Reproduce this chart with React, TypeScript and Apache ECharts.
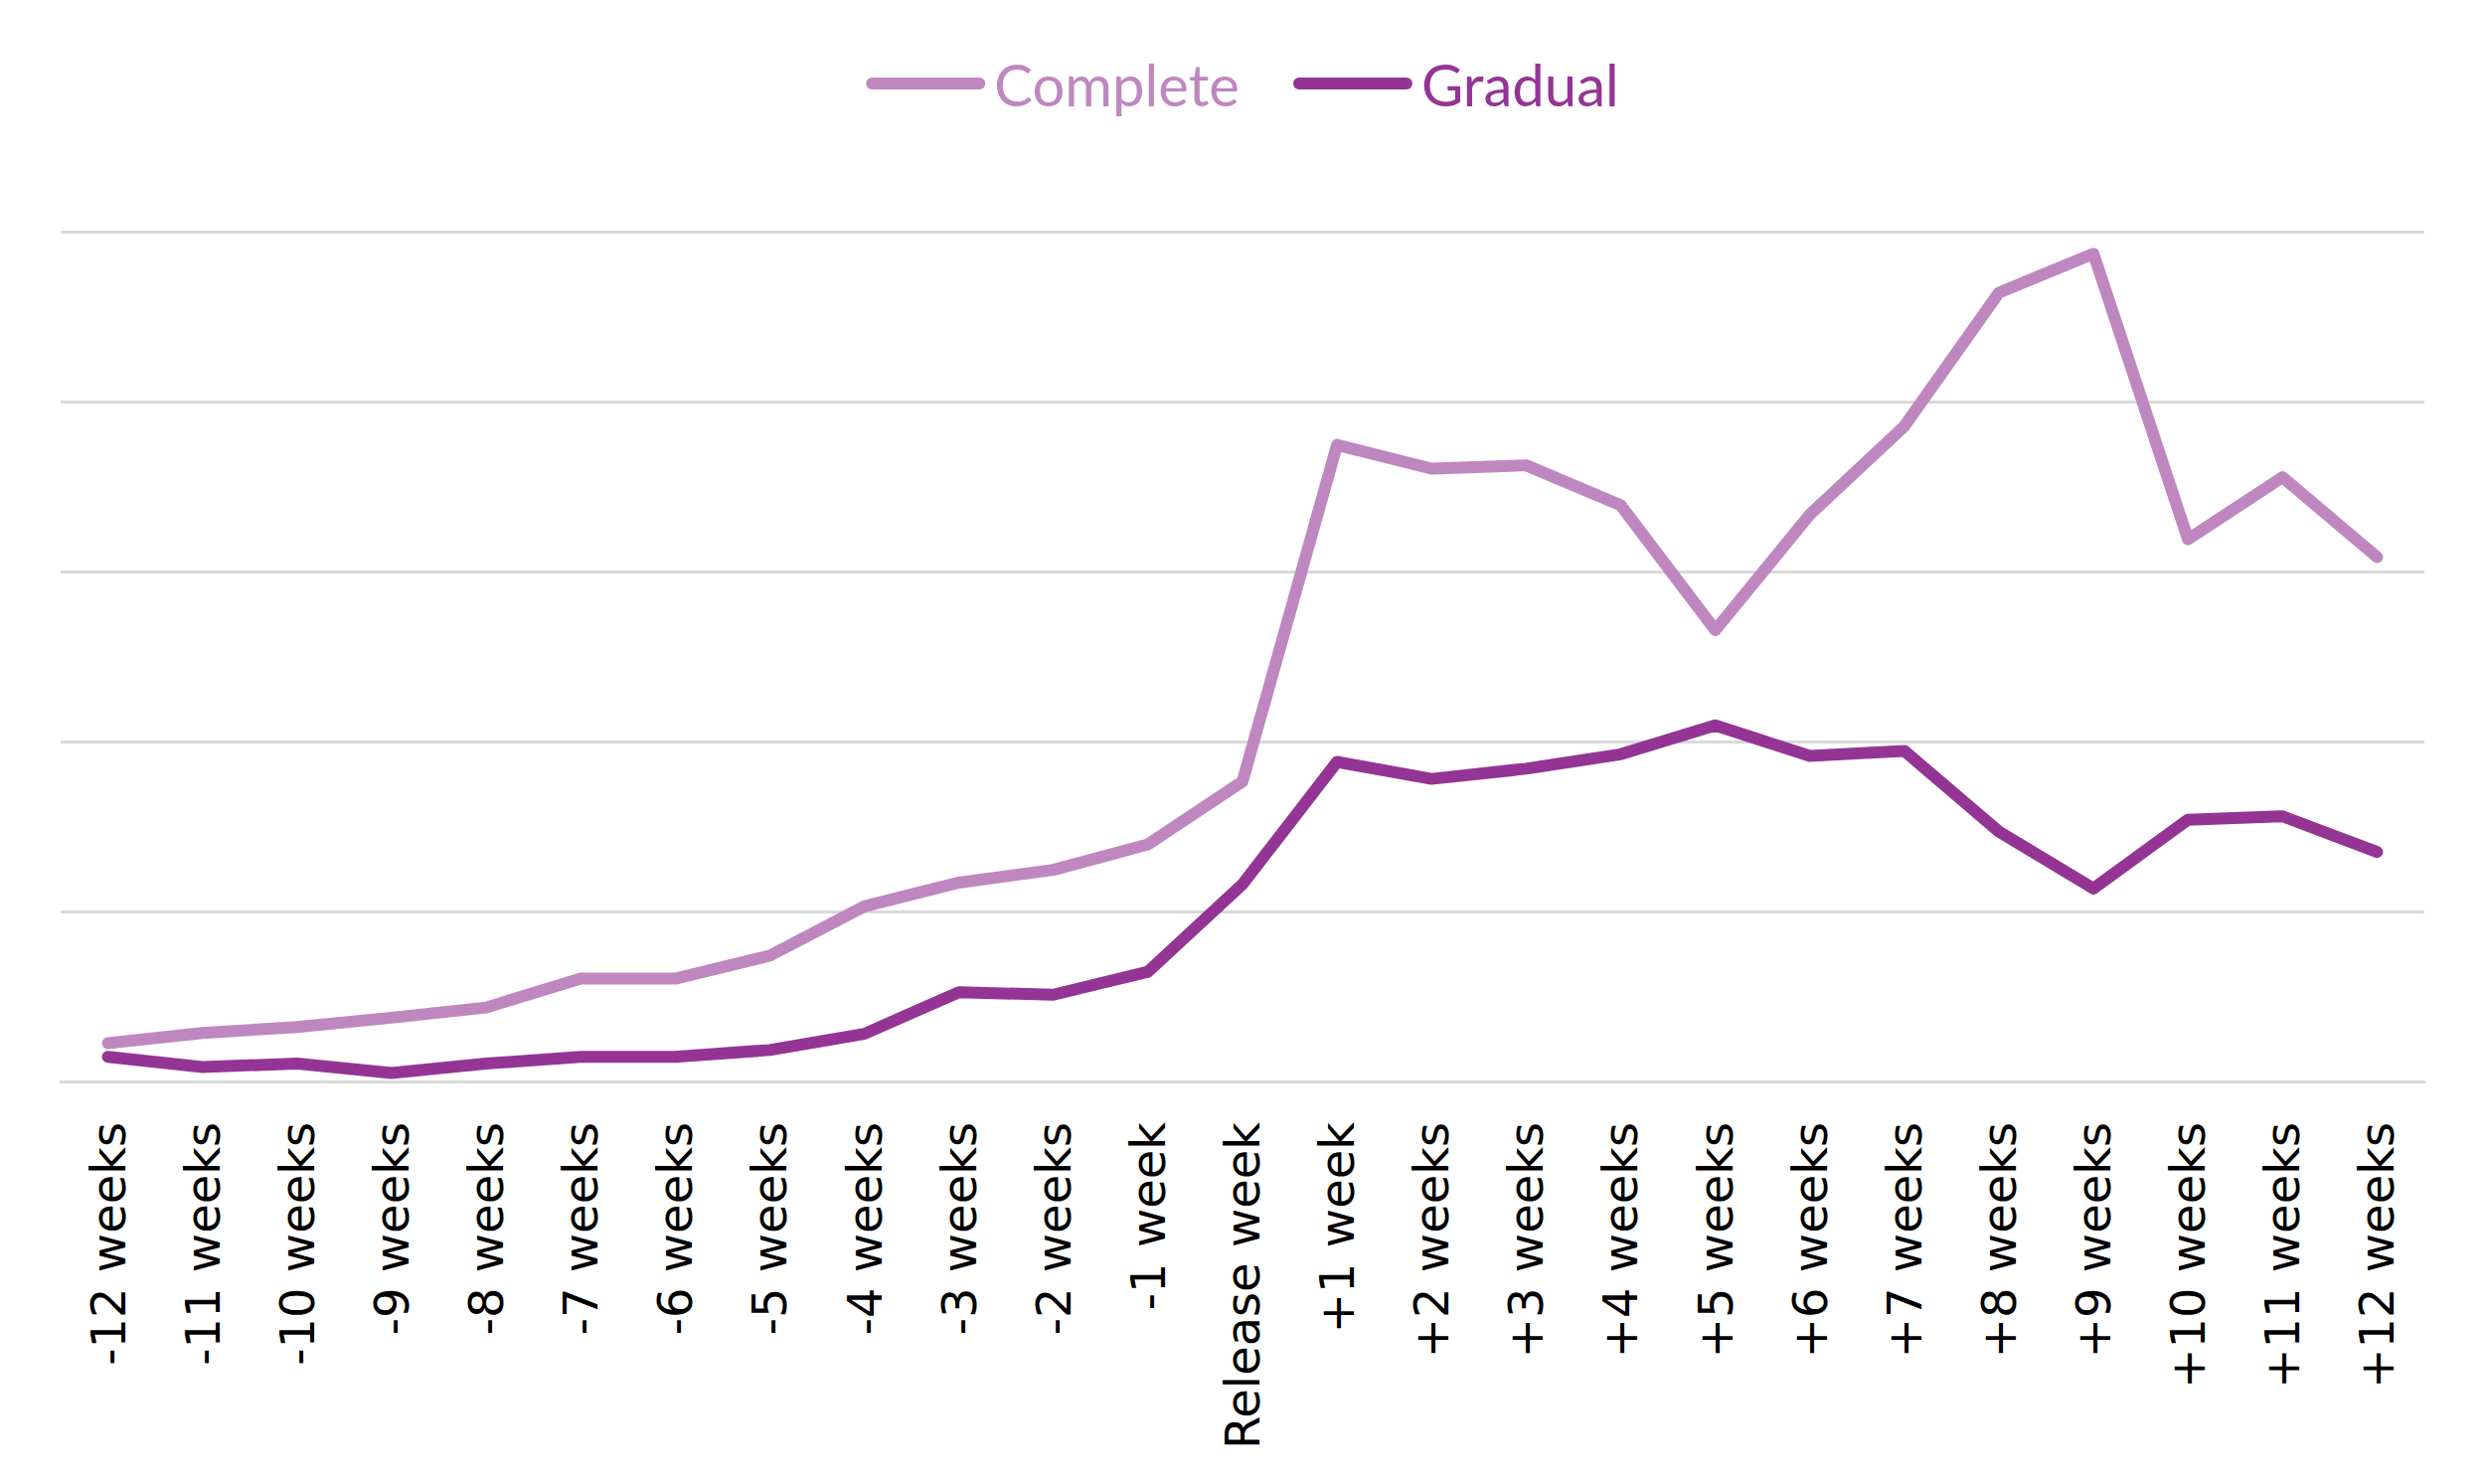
import { useEffect, useRef } from "react"
import * as echarts from "echarts"

const weeks = [
  "-12 weeks", "-11 weeks", "-10 weeks", "-9 weeks", "-8 weeks", "-7 weeks",
  "-6 weeks", "-5 weeks", "-4 weeks", "-3 weeks", "-2 weeks", "-1 week",
  "Release week",
  "+1 week", "+2 weeks", "+3 weeks", "+4 weeks", "+5 weeks", "+6 weeks",
  "+7 weeks", "+8 weeks", "+9 weeks", "+10 weeks", "+11 weeks", "+12 weeks",
]

const complete = [
  4.5, 5.7, 6.4, 7.5, 8.7, 12.1, 12.1, 14.8, 20.6, 23.4, 24.9, 27.9,
  35.3,
  74.9, 72.1, 72.5, 67.8, 53.1, 66.7, 77.1, 92.8, 97.4, 63.8, 71.1, 61.7,
]

const gradual = [
  2.9, 1.7, 2.1, 1.0, 2.1, 2.9, 2.9, 3.7, 5.6, 10.5, 10.2, 12.9,
  23.2,
  37.6, 35.6, 36.8, 38.5, 41.9, 38.3, 38.9, 29.4, 22.7, 30.8, 31.2, 27.0,
]

const seriesNames = ["Complete", "Gradual"]
const seriesColors = ["#BF87BF", "#943595"]

const legendIcon = "path://M6,0H114A6,6,0,0,1,114,12H6A6,6,0,0,1,6,0Z"

export default function App() {
  const chartRef = useRef<HTMLDivElement>(null)

  useEffect(() => {
    if (!chartRef.current) return
    document.body.style.margin = "0"

    const chart = echarts.init(chartRef.current, null, { renderer: "svg" })

    const option = {
      animation: false,
      backgroundColor: "#ffffff",
      legend: {
        top: 50,
        left: "center",
        itemWidth: 120,
        itemHeight: 12,
        itemGap: 54,
        icon: legendIcon,
        data: seriesNames.map((name, i) => ({
          name,
          icon: legendIcon,
          itemStyle: { color: seriesColors[i] },
          textStyle: { color: seriesColors[i] },
        })),
        textStyle: {
          fontSize: 58,
          fontFamily: "Lato",
          padding: [0, 0, 0, 4],
        },
      },
      grid: {
        left: 61,
        right: 61,
        top: 233,
        bottom: 405,
        containLabel: false,
      },
      xAxis: {
        type: "category",
        data: weeks,
        boundaryGap: true,
        axisLine: { show: true, lineStyle: { color: "#D9D9D9", width: 3 } },
        axisTick: { show: false },
        axisLabel: {
          rotate: 90,
          interval: 0,
          margin: 41,
          fontSize: 48,
          fontFamily: "DejaVu Sans",
          color: "#000000",
        },
      },
      yAxis: {
        type: "value",
        min: 0,
        max: 100,
        interval: 20,
        axisLabel: { show: false },
        axisLine: { show: false },
        axisTick: { show: false },
        splitLine: { show: true, lineStyle: { color: "#D9D9D9", width: 3 } },
      },
      series: [
        {
          name: seriesNames[0],
          type: "line",
          data: complete,
          symbol: "none",
          showSymbol: false,
          color: seriesColors[0],
          lineStyle: { width: 12, color: seriesColors[0], cap: "round", join: "round" },
        },
        {
          name: seriesNames[1],
          type: "line",
          data: gradual,
          symbol: "none",
          showSymbol: false,
          color: seriesColors[1],
          lineStyle: { width: 12, color: seriesColors[1], cap: "round", join: "round" },
        },
      ],
    }

    chart.setOption(option)

    return () => {
      chart.dispose()
    }
  }, [])

  return <div ref={chartRef} style={{ width: "2500px", height: "1493px" }} />
}
